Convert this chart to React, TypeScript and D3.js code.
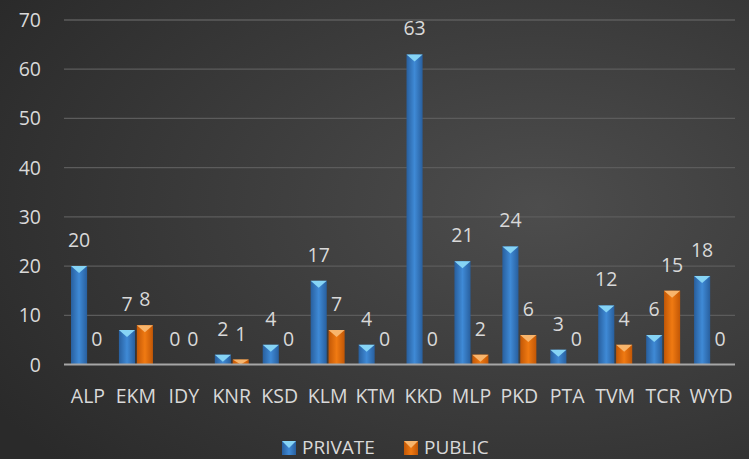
import React from "react";
import * as d3 from "d3";

const categories = ["ALP", "EKM", "IDY", "KNR", "KSD", "KLM", "KTM", "KKD", "MLP", "PKD", "PTA", "TVM", "TCR", "WYD"];
const seriesNames = ["PRIVATE", "PUBLIC"];
const privateValues = [20, 7, 0, 2, 4, 17, 4, 63, 21, 24, 3, 12, 6, 18];
const publicValues = [0, 8, 0, 1, 0, 7, 0, 0, 2, 6, 0, 4, 15, 0];
const yTicks = [0, 10, 20, 30, 40, 50, 60, 70];

const W = 749;
const H = 459;
const FONT = "'Open Sans', 'DejaVu Sans', sans-serif";
const TEXT = "#d9d9d9";

const palette = [
  { id: "gBlue", edge: "#285f9e", mid: "#3f8ad6", cap: "#86d4f5" },
  { id: "gOrange", edge: "#c25706", mid: "#f07a12", cap: "#f8b56c" },
];

export default function App() {
  const x0 = d3.scaleBand<string>().domain(categories).range([64, 735]).paddingInner(0).paddingOuter(0);
  const x1 = d3.scaleBand<string>().domain(seriesNames).range([7, 41]).paddingInner(0.1);
  const y = d3.scaleLinear().domain([0, 70]).range([364.5, 20]);
  const seriesValues = [privateValues, publicValues];
  const bw = x1.bandwidth();

  return (
    <svg width={W} height={H} style={{ position: "absolute", left: 0, top: 0, display: "block" }}>
      <defs>
        <radialGradient id="bg" cx="0.72" cy="0.45" r="0.85">
          <stop offset="0" stopColor="#4d4d4d" />
          <stop offset="1" stopColor="#2a2a2a" />
        </radialGradient>
        {palette.map((p) => (
          <linearGradient key={p.id} id={p.id} x1="0" x2="1" y1="0" y2="0">
            <stop offset="0" stopColor={p.edge} />
            <stop offset="0.5" stopColor={p.mid} />
            <stop offset="1" stopColor={p.edge} />
          </linearGradient>
        ))}
      </defs>
      <rect x={0} y={0} width={W} height={H} fill="url(#bg)" />
      {yTicks.map((t) => (
        <g key={t}>
          {t > 0 && <line x1={64} x2={735} y1={y(t)} y2={y(t)} stroke="#5c5c5c" strokeWidth={1.3} />}
          <text x={41} y={y(t) + 7} textAnchor="end" fill={TEXT} fontFamily={FONT} fontSize={19.5}>
            {t}
          </text>
        </g>
      ))}
      {categories.map((c, i) => (
        <g key={c} transform={`translate(${x0(c)},0)`}>
          {seriesNames.map((s, k) => {
            const v = seriesValues[k][i];
            const p = palette[k];
            const bx = x1(s)!;
            const top = y(v);
            const h = y(0) - top;
            const capH = Math.min(7, h);
            return (
              <g key={s}>
                {h > 0 && (
                  <>
                    <rect x={bx} y={top} width={bw} height={h} fill={`url(#${p.id})`} />
                    <path d={`M${bx},${top}L${bx + bw},${top}L${bx + bw / 2},${top + capH}Z`} fill={p.cap} />
                  </>
                )}
                <text x={bx + bw / 2} y={top - 19} textAnchor="middle" fill={TEXT} fontFamily={FONT} fontSize={19.5}>
                  {v}
                </text>
              </g>
            );
          })}
          <text x={x0.bandwidth() / 2} y={403} textAnchor="middle" fill={TEXT} fontFamily={FONT} fontSize={19.5}>
            {c}
          </text>
        </g>
      ))}
      <line x1={64} x2={735} y1={y(0)} y2={y(0)} stroke="#a6a6a6" strokeWidth={2} />
      {seriesNames.map((s, k) => {
        const lx = k === 0 ? 282 : 404;
        const p = palette[k];
        return (
          <g key={s}>
            <rect x={lx} y={441} width={14} height={14} fill={`url(#${p.id})`} />
            <path d={`M${lx},441L${lx + 14},441L${lx + 7},448Z`} fill={p.cap} />
            <text x={lx + 20} y={453.5} fill={TEXT} fontFamily={FONT} fontSize={19}>
              {s}
            </text>
          </g>
        );
      })}
    </svg>
  );
}
